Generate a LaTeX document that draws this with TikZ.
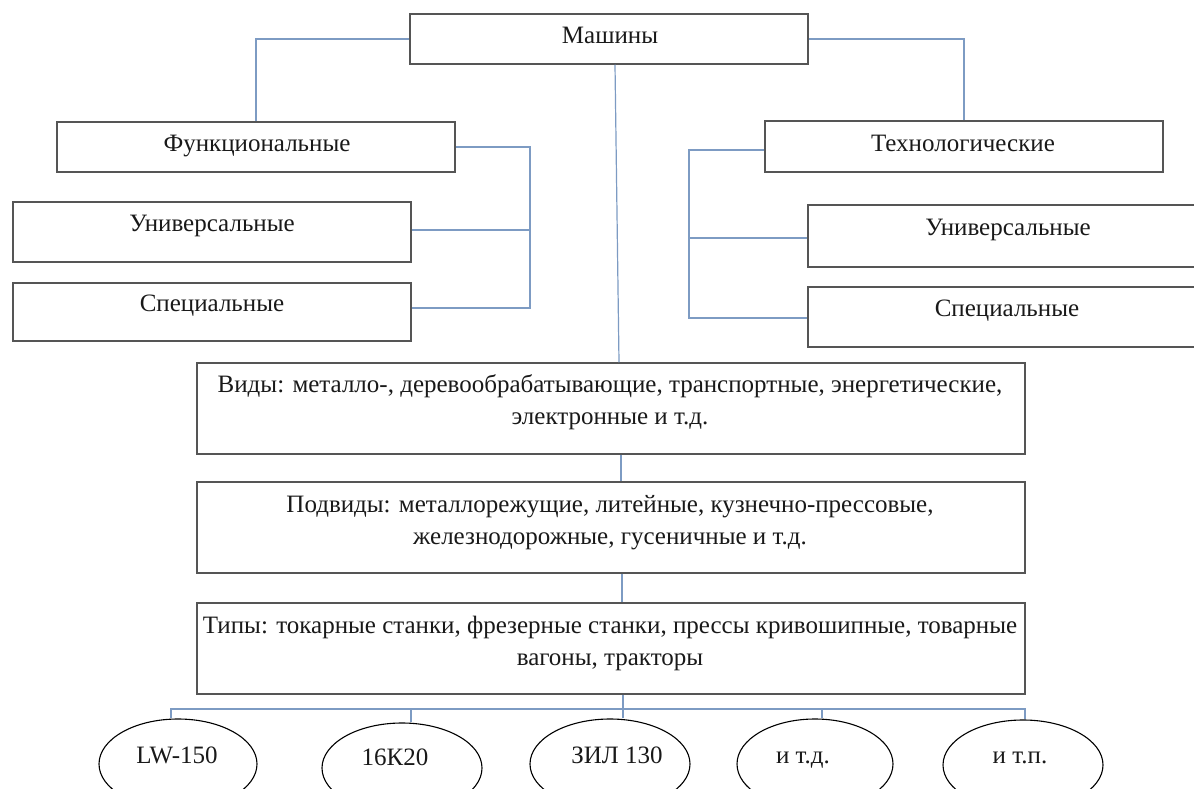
\documentclass[tikz,border=0pt]{standalone}
\usepackage{fontspec}
\setmainfont{Liberation Serif}
\usetikzlibrary{shapes.geometric}
\definecolor{conn}{RGB}{125,155,195}
\definecolor{bord}{RGB}{85,85,85}
\definecolor{ink}{RGB}{25,25,25}
\begin{document}
\begin{tikzpicture}[x=1pt,y=-1pt,
  box/.style={draw=bord,line width=1.5pt,rectangle,inner sep=0pt},
  txt/.style={anchor=base,inner sep=0pt,text=ink,font=\fontsize{25}{32.5}\selectfont},
  mtxt/.style={align=center,inner sep=0pt,text=ink,font=\fontsize{25}{32.5}\selectfont},
  link/.style={draw=conn,line width=1.2pt},
  oval/.style={draw=black,line width=1.1pt,ellipse,inner sep=0pt},
]
\useasboundingbox (0,0) rectangle (1194,789);
\clip (0,0) rectangle (1194,789);

% boxes
\node[box,minimum width=398pt,minimum height=50pt] (mash) at (609,39) {};
\node[box,minimum width=398pt,minimum height=50pt] (func) at (256,147) {};
\node[box,minimum width=398pt,minimum height=60pt] (uniL) at (212,232) {};
\node[box,minimum width=398pt,minimum height=58pt] (specL) at (212,312) {};
\node[box,minimum width=398pt,minimum height=51pt] (tech) at (964,146.5) {};
\node[box,minimum width=400pt,minimum height=62pt] (uniR) at (1008,236) {};
\node[box,minimum width=400pt,minimum height=60pt] (specR) at (1008,317) {};
\node[box,minimum width=828pt,minimum height=91pt] (vid) at (611,408.5) {};
\node[box,minimum width=828pt,minimum height=91pt] (podv) at (611,527.5) {};
\node[box,minimum width=828pt,minimum height=91pt] (tipy) at (611,648.5) {};

% ellipses
\node[oval,minimum width=158pt,minimum height=90pt] (e1) at (178,764) {};
\node[oval,minimum width=160pt,minimum height=90pt] (e2) at (402,768) {};
\node[oval,minimum width=160pt,minimum height=90pt] (e3) at (610,764) {};
\node[oval,minimum width=156pt,minimum height=90pt] (e4) at (815,764) {};
\node[oval,minimum width=160pt,minimum height=90pt] (e5) at (1023,765) {};

% texts
\node[txt] (mash-t) at (610,44) {Машины};
\node[txt] (func-t) at (257,151) {Функциональные};
\node[txt] (uniL-t) at (212,231) {Универсальные};
\node[txt] (specL-t) at (212,311) {Специальные};
\node[txt] (tech-t) at (963,152) {Технологические};
\node[txt] (uniR-t) at (1008,235) {Универсальные};
\node[txt] (specR-t) at (1007,316) {Специальные};
\node[mtxt] (vid-t) at (610,401.75) {\strut Виды: металло-, деревообрабатывающие, транспортные, энергетические,\\\strut электронные и т.д.};
\node[mtxt] (podv-t) at (610,521.75) {\strut Подвиды: металлорежущие, литейные, кузнечно-прессовые,\\\strut железнодорожные, гусеничные и т.д.};
\node[mtxt] (tipy-t) at (610,642.75) {\strut Типы: токарные станки, фрезерные станки, прессы кривошипные, товарные\\\strut вагоны, тракторы};
\node[txt] (e1-t) at (177,763) {LW-150};
\node[txt] (e2-t) at (395,765) {16К20};
\node[txt] (e3-t) at (617,763) {ЗИЛ 130};
\node[txt] (e4-t) at (803,763) {и т.д.};
\node[txt] (e5-t) at (1020,763) {и т.п.};

% connectors
\coordinate (lj) at (530,0);
\coordinate (rj) at (689,0);
\coordinate (bus) at (0,709);
\draw[link] (mash.west) -| (func.north);
\draw[link] (mash.east) -| (tech.north);
\draw[link] (func.east) -| ([yshift=4pt]specL.east -| lj) -- ([yshift=4pt]specL.east);
\draw[link] ([yshift=2pt]uniL.east) -- ([yshift=2pt]uniL.east -| lj);
\draw[link] ([yshift=-3.5pt]tech.west) -| ([yshift=-1pt]specR.west -| rj) -- ([yshift=-1pt]specR.west);
\draw[link] ([yshift=-2pt]uniR.west) -- ([yshift=-2pt]uniR.west -| rj);
\draw[link] ([xshift=6pt]mash.south) -- ([xshift=8pt]vid.north);
\draw[link] ([xshift=10pt]vid.south) -- ([xshift=10pt]podv.north);
\draw[link] ([xshift=11pt]podv.south) -- ([xshift=11pt]tipy.north);
\draw[link] ([xshift=12pt]tipy.south) -- ([xshift=12pt]tipy.south |- bus);
\draw[link] ([xshift=-7pt]e1.north) |- ([xshift=2pt]e5.north |- bus) -- ([xshift=2pt]e5.north);
\draw[link] ([xshift=9pt]e2.north) -- ([xshift=9pt]e2.north |- bus);
\draw[link] ([xshift=13pt]e3.north) -- ([xshift=13pt]e3.north |- bus);
\draw[link] ([xshift=7pt]e4.north) -- ([xshift=7pt]e4.north |- bus);
\end{tikzpicture}
\end{document}
